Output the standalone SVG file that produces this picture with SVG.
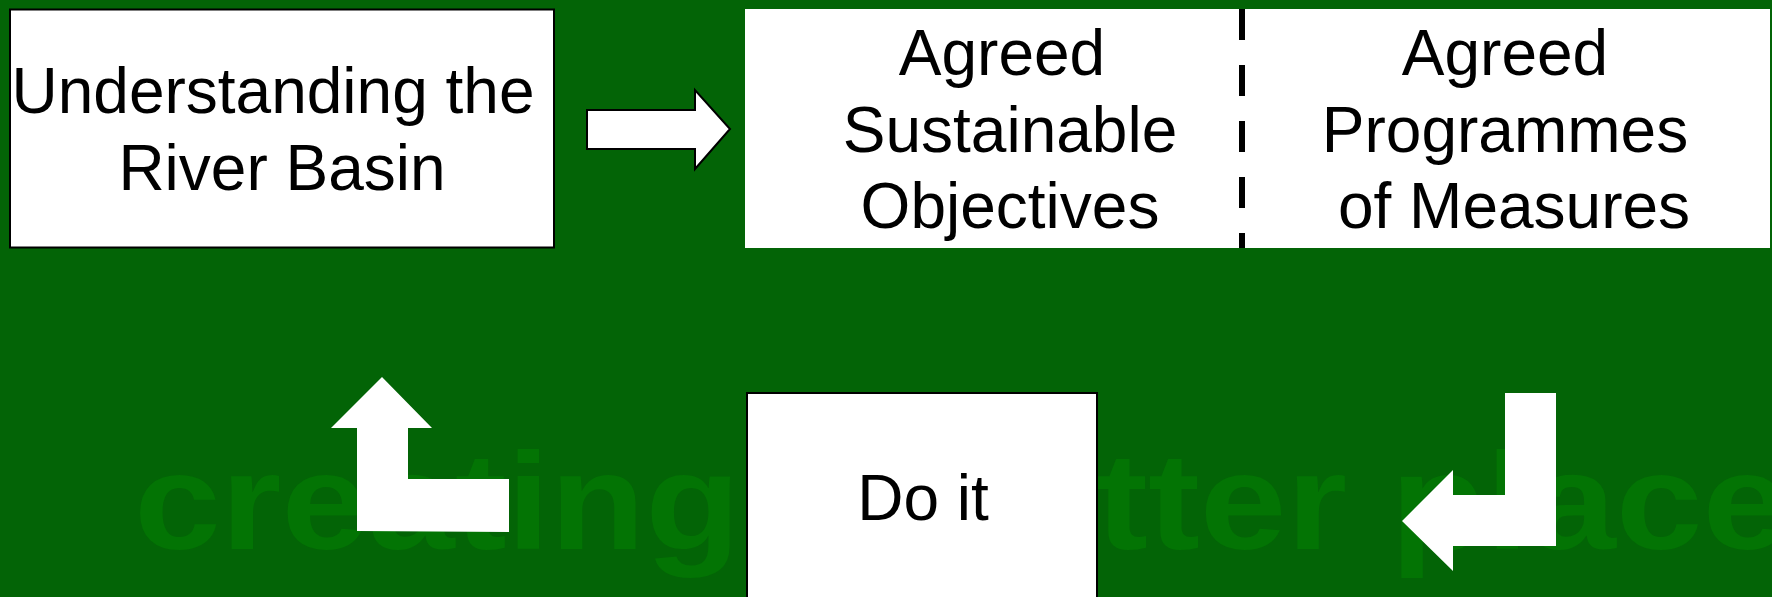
<svg xmlns="http://www.w3.org/2000/svg" width="1772" height="597" viewBox="0 0 1772 597">
<style>
.lbl{font-family:"Liberation Sans",Arial,sans-serif;font-size:64px;fill:#000;text-anchor:middle}
.box{fill:#fff;stroke:#000;stroke-width:2}
.wm{font-family:"Liberation Sans",Arial,sans-serif;font-weight:bold;font-size:138px;fill:#037404}
.white{fill:#fff}
</style>
<rect x="0" y="0" width="1772" height="597" fill="#036406"/>
<g id="watermark">
<text class="wm" transform="translate(134,549) scale(1.13,1)" x="0" y="0">creating</text>
<text class="wm" transform="translate(1096,549) scale(1.13,1)" x="0" y="0">tter place</text>
</g>
<g id="understanding">
<rect class="box" x="10" y="9.5" width="544" height="238"/>
<text class="lbl" x="273" y="113">Understanding the</text>
<text class="lbl" x="282" y="190">River Basin</text>
</g>
<g id="agreed">
<rect x="745" y="9" width="1025" height="239" fill="#fff"/>
<line x1="1242" y1="9" x2="1242" y2="248" stroke="#000" stroke-width="6" stroke-dasharray="31 25"/>
<text class="lbl" x="1002" y="75">Agreed</text>
<text class="lbl" x="1010" y="152">Sustainable</text>
<text class="lbl" x="1010" y="228">Objectives</text>
<text class="lbl" x="1505" y="75">Agreed</text>
<text class="lbl" x="1505" y="152">Programmes</text>
<text class="lbl" x="1514" y="228">of Measures</text>
</g>
<g id="doit">
<rect class="box" x="747" y="393" width="350" height="215"/>
<text class="lbl" x="923" y="520">Do it</text>
</g>
<g id="connectors">
<polygon points="587,110 695,110 695,90 730,129 695,169 695,149 587,149" fill="#fff" stroke="#000" stroke-width="2" stroke-linejoin="miter"/>
<polygon class="white" points="382,377 432,428 408,428 408,479 509,479 509,532 357,531 357,428 331,428"/>
<polygon class="white" points="1505,393 1556,393 1556,546 1453,546 1453,571 1402,521 1453,470 1453,495 1505,495"/>
</g>
</svg>
